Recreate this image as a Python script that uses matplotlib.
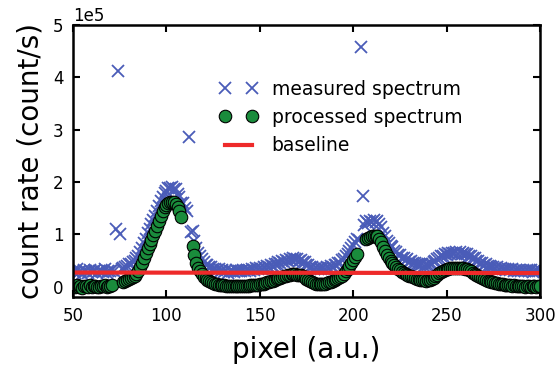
import numpy as np
import matplotlib
matplotlib.use("Agg")
import matplotlib.pyplot as plt

nan = np.nan

# pixel positions (a.u.)
pixel = np.arange(50, 301)

# measured spectrum, count rate in units of 1e4 count/s
measured = [
    3.0, 2.6, 3.3, 2.8, 2.9, 2.5, 3.1, 3.0, 2.7, 3.2,
    2.8, 2.9, 3.1, 2.6, 2.9, 3.0, 2.8, 3.3, 2.7, 3.0,
    2.9, 3.1, 3.0, 11.1, 41.2, 10.0, 3.3, 3.6, 3.8, 4.0,
    4.3, 4.4, 4.8, 5.0, 5.5, 5.9, 6.6, 7.4, 8.4, 9.2,
    10.2, 11.0, 11.9, 12.7, 13.6, 14.4, 15.4, 16.4, 17.2, 18.0,
    18.3, 18.8, 18.8, 19.0, 18.7, 18.6, 17.8, 17.2, 16.0, 15.9,
    15.1, 14.4, 28.7, 10.4, 10.6, 8.8, 7.4, 6.4, 5.8, 5.2,
    4.7, 4.2, 4.1, 3.7, 3.7, 3.3, 3.4, 3.1, 3.3, 2.9,
    3.1, 2.8, 3.2, 2.7, 3.0, 3.0, 2.8, 3.2, 2.9, 3.0,
    2.9, 3.2, 2.9, 3.1, 3.2, 3.0, 3.4, 3.2, 3.5, 3.3,
    3.6, 3.4, 3.8, 3.6, 3.9, 3.8, 4.1, 4.0, 4.4, 4.3,
    4.7, 4.5, 4.9, 4.8, 5.1, 5.0, 5.3, 5.1, 5.4, 5.2,
    5.2, 5.0, 5.1, 4.7, 4.7, 4.2, 4.1, 3.7, 3.7, 3.4,
    3.5, 3.3, 3.5, 3.3, 3.5, 3.4, 3.7, 3.6, 3.9, 3.8,
    4.2, 4.2, 4.6, 4.6, 5.1, 5.3, 5.9, 6.2, 6.9, 7.3,
    8.0, 8.5, 9.2, 9.0, 45.8, 17.3, 11.8, 12.5, 12.2, 12.6,
    12.4, 12.7, 12.3, 12.5, 11.9, 11.4, 10.3, 9.7, 8.8, 8.4,
    7.7, 7.5, 6.8, 6.6, 6.1, 6.0, 5.5, 5.5, 5.1, 5.2,
    4.8, 4.9, 4.5, 4.6, 4.3, 4.4, 4.1, 4.3, 4.0, 4.2,
    4.1, 4.3, 4.4, 4.7, 4.9, 5.3, 5.5, 5.8, 5.9, 6.2,
    6.1, 6.4, 6.3, 6.5, 6.4, 6.6, 6.3, 6.6, 6.3, 6.5,
    6.2, 6.3, 5.9, 5.9, 5.5, 5.5, 5.0, 5.0, 4.6, 4.6,
    4.2, 4.3, 3.9, 4.0, 3.7, 3.8, 3.5, 3.7, 3.4, 3.5,
    3.3, 3.4, 3.2, 3.3, 3.1, 3.3, 3.0, 3.2, 2.9, 3.1,
    3.0, 3.2, 2.9, 3.1, 2.9, 3.1, 2.8, 3.0, 3.0, 2.9, 3.1,
]

# processed spectrum (baseline removed, spikes dropped), 1e4 count/s
processed = [
    0.2, -0.1, 0.3, 0.0, 0.1, -0.2, 0.2, 0.1, 0.0, 0.3,
    -0.1, 0.1, 0.2, 0.0, -0.1, 0.2, 0.1, 0.3, 0.0, 0.2,
    0.1, 0.3, nan, nan, nan, nan, nan, 0.8, 1.0, 1.2,
    1.4, 1.6, 1.8, 2.1, 2.5, 3.0, 3.7, 4.6, 5.5, 6.4,
    7.3, 8.2, 9.0, 9.9, 10.7, 11.6, 12.6, 13.6, 14.5, 15.2,
    15.7, 16.0, 16.2, 16.2, 16.1, 15.8, 15.2, 14.4, 13.4, nan,
    nan, nan, nan, nan, 7.8, 6.0, 4.6, 3.6, 3.0, 2.4,
    1.9, 1.6, 1.3, 1.1, 0.9, 0.7, 0.6, 0.5, 0.4, 0.3,
    0.3, 0.3, 0.2, 0.2, 0.1, 0.2, 0.1, 0.1, 0.2, 0.1,
    0.1, 0.2, 0.1, 0.2, 0.2, 0.3, 0.3, 0.3, 0.4, 0.4,
    0.5, 0.5, 0.6, 0.7, 0.8, 0.9, 1.0, 1.1, 1.3, 1.4,
    1.6, 1.7, 1.9, 2.0, 2.1, 2.2, 2.3, 2.4, 2.4, 2.4,
    2.3, 2.3, 2.2, 2.0, 1.8, 1.5, 1.2, 1.0, 0.8, 0.7,
    0.6, 0.5, 0.5, 0.5, 0.5, 0.6, 0.7, 0.8, 0.9, 1.0,
    1.2, 1.4, 1.6, 1.8, 2.1, 2.5, 2.9, 3.4, 3.9, 4.5,
    5.1, 5.7, 6.3, nan, nan, nan, nan, 9.1, 9.3, 9.5,
    9.6, 9.7, 9.7, 9.6, 9.2, 8.5, 7.6, 6.8, 6.1, 5.5,
    5.0, 4.6, 4.1, 3.7, 3.4, 3.1, 2.8, 2.6, 2.4, 2.3,
    2.1, 2.0, 1.8, 1.7, 1.5, 1.4, 1.3, 1.2, 1.2, 1.1,
    1.2, 1.3, 1.5, 1.7, 2.0, 2.3, 2.6, 2.8, 3.0, 3.2,
    3.3, 3.4, 3.5, 3.5, 3.6, 3.6, 3.6, 3.6, 3.5, 3.5,
    3.4, 3.3, 3.1, 2.9, 2.7, 2.5, 2.2, 2.0, 1.8, 1.6,
    1.4, 1.3, 1.1, 1.0, 0.9, 0.8, 0.7, 0.7, 0.6, 0.5,
    0.5, 0.4, 0.4, 0.3, 0.3, 0.2, 0.3, 0.2, 0.1, 0.2,
    0.1, 0.2, 0.0, 0.1, 0.2, 0.0, 0.1, 0.1, 0.0, 0.2, 0.1,
]

# baseline end points
base_x = [50, 300]
base_y = [2.7, 2.6]

scale = 1e4
measured = np.array(measured) * scale
processed = np.array(processed) * scale
base_y = np.array(base_y) * scale

fig = plt.figure(figsize=(5.55, 3.7), dpi=100)
ax = fig.add_axes([0.1315, 0.197, 0.8415, 0.735])

ax.plot(pixel, measured, 'x', color='#4a5cb8', ms=8, mew=1.3,
        label='measured spectrum')
ax.plot(pixel, processed, 'o', mfc='#1a8c3c', mec='black', mew=0.8, ms=9,
        label='processed spectrum')
ax.plot(base_x, base_y, '-', color='#ee2a2a', lw=3, label='baseline')

ax.set_xlim(50, 300)
ax.set_ylim(-0.2e5, 5e5)
ax.set_xticks([50, 100, 150, 200, 250, 300])
ax.set_yticks([0, 1e5, 2e5, 3e5, 4e5, 5e5])
ax.ticklabel_format(axis='y', style='sci', scilimits=(0, 0))
ax.yaxis.get_offset_text().set_fontsize(12)

ax.tick_params(direction='in', top=True, right=True, length=5, width=1.5,
               labelsize=12, pad=7)
for sp in ax.spines.values():
    sp.set_linewidth(1.8)

ax.set_xlabel('pixel (a.u.)', fontsize=20, labelpad=8)
ax.set_ylabel('count rate (count/s)', fontsize=20, labelpad=6)

ax.legend(loc='upper left', bbox_to_anchor=(0.314, 0.80), frameon=False,
          numpoints=2, fontsize=13.5, handlelength=2.0, handletextpad=0.77,
          labelspacing=0.5, borderpad=0, borderaxespad=0)

fig.savefig('out.png', dpi=100)
